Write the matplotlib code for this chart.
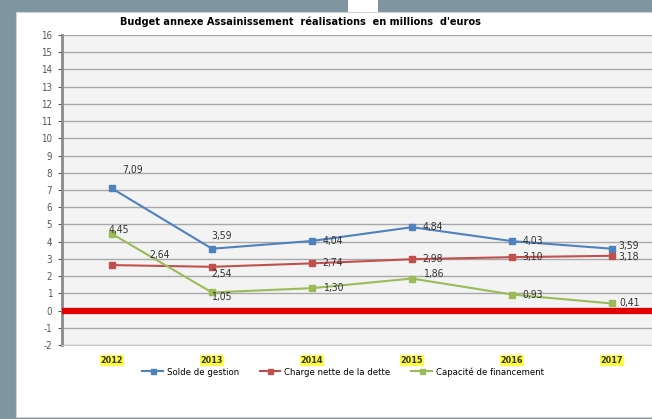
"""Budget annexe Assainissement: réalisations 2012-2017, en millions d'euros."""

import matplotlib.pyplot as plt
from matplotlib import font_manager
from matplotlib.patches import Rectangle

OUT_PNG = "out.png"

YEARS = ["2012", "2013", "2014", "2015", "2016", "2017"]
SOLDE = [7.09, 3.59, 4.04, 4.84, 4.03, 3.59]
CHARGE = [2.64, 2.54, 2.74, 2.98, 3.10, 3.18]
CAPACITE = [4.45, 1.05, 1.30, 1.86, 0.93, 0.41]

NAMES = ["Solde de gestion", "Charge nette de la dette", "Capacité de financement"]
COLORS = ["#4f81bd", "#c0504d", "#9bbb59"]

# label offsets in points (dx, dy) per series and year
OFFSETS = [
    [(15, 13), (7, 9), (15, 0), (15, 0), (15, 0), (12, 2)],
    [(34, 7), (7, -5), (15, 0), (15, 0), (15, 0), (12, -1)],
    [(5, 3), (7, -3), (15, 0), (15, 3), (15, 0), (13, 0)],
]

# a narrow face if one is around, else plain DejaVu
names = {f.name for f in font_manager.fontManager.ttflist}
narrow = [n for n in ("Liberation Sans Narrow", "DejaVu Sans Condensed") if n in names]
plt.rcParams["font.family"] = narrow + ["DejaVu Sans"]
plt.rcParams["font.stretch"] = "condensed"
plt.rcParams["axes.unicode_minus"] = False


def fmt(v):
    return f"{v:.2f}".replace(".", ",")


def main():
    fig = plt.figure(figsize=(6.52, 4.19), dpi=100)
    fig.patch.set_facecolor("#7f95a0")
    # white chart panel and the little notch at the top
    fig.add_artist(Rectangle((16 / 652, 0.004), 1, 1 - 12 / 419 - 0.004,
                             transform=fig.transFigure, facecolor="white",
                             edgecolor="#d0d0d0", lw=0.8, zorder=0))
    fig.add_artist(Rectangle((348 / 652, 1 - 12 / 419), 30 / 652, 12 / 419,
                             transform=fig.transFigure, facecolor="white",
                             edgecolor="none", zorder=0))

    ax = fig.add_axes([62 / 652, 74 / 419, 600 / 652, 310 / 419])
    ax.set_facecolor("#f3f3f3")
    x = list(range(len(YEARS)))

    ax.set_ylim(-2, 16)
    ax.set_xlim(-0.5, len(YEARS) - 0.5)
    ax.set_yticks(range(-2, 17))
    ax.grid(axis="y", color="#a8a8a8", lw=1.0)
    ax.set_axisbelow(True)
    for s in ("top", "right"):
        ax.spines[s].set_visible(False)
    ax.spines["bottom"].set_color("#c8c8c8")
    ax.spines["left"].set_color("#8a8a8a")
    ax.spines["left"].set_linewidth(2)
    ax.tick_params(axis="y", labelsize=7, colors="#555555", length=3, width=0.8, pad=4)
    ax.tick_params(axis="x", length=0, pad=8)

    ax.axhline(0, color="#e00000", lw=4.5, zorder=4)

    for vals, name, color, offs in zip([SOLDE, CHARGE, CAPACITE], NAMES, COLORS, OFFSETS):
        ax.plot(x, vals, "-s", color=color, lw=1.5, ms=4.5, label=name, zorder=5)
        for xi, v, (dx, dy) in zip(x, vals, offs):
            ax.annotate(fmt(v), (xi, v), xytext=(dx, dy), textcoords="offset points",
                        ha="center", va="center", fontsize=7.5, color="#333333", zorder=6)

    ax.set_xticks(x)
    ax.set_xticklabels(YEARS, fontsize=6.5, fontweight="bold", color="#333333")
    for lbl in ax.get_xticklabels():
        lbl.set_bbox(dict(facecolor="#ffff40", edgecolor="none", pad=0.8))

    ax.set_title("Budget annexe Assainissement  réalisations  en millions  d'euros",
                 fontsize=7.8, fontweight="bold", loc="left", x=0.097, y=1.0, pad=7)

    fig.legend(loc="center", bbox_to_anchor=(343 / 652, 1 - 372 / 419), ncol=3,
               frameon=False, fontsize=6.8, handlelength=2.2, handletextpad=0.4,
               columnspacing=2.2, markerscale=0.8)

    fig.savefig(OUT_PNG, dpi=100, facecolor=fig.get_facecolor())


if __name__ == "__main__":
    main()
